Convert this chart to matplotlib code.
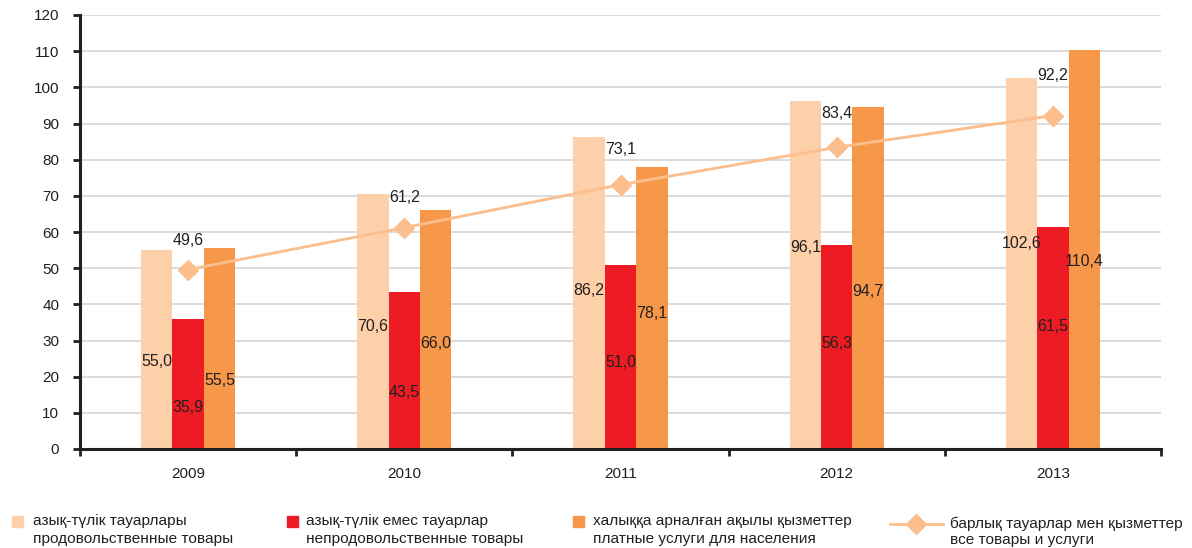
import matplotlib
matplotlib.use("Agg")
import matplotlib.pyplot as plt
from matplotlib.patches import Rectangle
from matplotlib.lines import Line2D
import numpy as np

plt.rcParams['font.family'] = ['Liberation Sans', 'DejaVu Sans']

# ---- data ----
years = ["2009", "2010", "2011", "2012", "2013"]
food = [55.0, 70.6, 86.2, 96.1, 102.6]
nonfood = [35.9, 43.5, 51.0, 56.3, 61.5]
services = [55.5, 66.0, 78.1, 94.7, 110.4]
total = [49.6, 61.2, 73.1, 83.4, 92.2]

legend_labels = [
    "азық-түлік тауарлары\nпродовольственные товары",
    "азық-түлік емес тауарлар\nнепродовольственные товары",
    "халыққа арналған ақылы қызметтер\nплатные услуги для населения",
    "барлық тауарлар мен қызметтер\nвсе товары и услуги",
]

# ---- styling ----
c_food = "#FDD0AA"
c_nonfood = "#ED1C24"
c_serv = "#F7974A"
c_line = "#FBBE8C"
txt = "#231F20"

# label vertical position as a fraction of bar height (styling only)
frac_food = [0.44, 0.48, 0.51, 0.58, 0.555]
frac_nonfood = [0.32, 0.36, 0.47, 0.52, 0.55]
frac_serv = [0.34, 0.44, 0.48, 0.46, 0.47]
line_label_off = [29, 30, 35, 34, 40]  # pixels above marker

W, H = 1192, 548
fig = plt.figure(figsize=(W / 100, H / 100), dpi=100)

def fx(px):
    return px / W

def fy(py):
    return 1 - py / H

ax = fig.add_axes([fx(80), fy(449), fx(1161) - fx(80), fy(15) - fy(449)])

x = np.arange(len(years))
bw = 0.145

ax.bar(x - bw, food, bw, color=c_food, zorder=2)
ax.bar(x, nonfood, bw, color=c_nonfood, zorder=2)
ax.bar(x + bw, services, bw, color=c_serv, zorder=2)
ax.plot(x, total, color=c_line, lw=2, marker="D", markersize=10,
        markerfacecolor=c_line, markeredgecolor=c_line, zorder=4)

fmt = lambda v: f"{v:.1f}".replace(".", ",")
fs_lab = 11.5

for xs, vals, fr in [(x - bw, food, frac_food), (x, nonfood, frac_nonfood), (x + bw, services, frac_serv)]:
    for xi, v, f in zip(xs, vals, fr):
        ax.text(xi, v * f, fmt(v), ha="center", va="center", fontsize=fs_lab, color=txt, zorder=5)

for xi, v, off in zip(x, total, line_label_off):
    ax.annotate(fmt(v), (xi, v), xytext=(0, off * 0.72), textcoords="offset points",
                ha="center", va="center", fontsize=fs_lab, color=txt, zorder=5)

ax.set_xlim(-0.5, len(years) - 0.5)
ax.set_ylim(0, 120)
ax.set_yticks(np.arange(0, 121, 10))
ax.yaxis.grid(True, color="#D6D6D6", lw=1.2, zorder=0)
ax.set_axisbelow(True)

for s in ["top", "right"]:
    ax.spines[s].set_visible(False)
for s in ["left", "bottom"]:
    ax.spines[s].set_linewidth(2.2)
    ax.spines[s].set_color(txt)

ax.set_xticks(x)
ax.set_xticklabels(years)
ax.set_xticks(np.arange(-0.5, len(years), 1.0), minor=True)
ax.tick_params(axis="x", which="major", length=0, pad=13, labelsize=11, colors=txt)
ax.tick_params(axis="x", which="minor", length=5, width=2, color=txt, direction="out")
ax.tick_params(axis="y", length=5, width=2, color=txt, pad=10, labelsize=11, labelcolor=txt)

# ---- legend (manual, figure coords) ----
sq = 11
fs_leg = 11.1
for (sx, tx), col, lab in zip([(12, 33), (287, 306), (573, 593)], [c_food, c_nonfood, c_serv], legend_labels[:3]):
    fig.patches.append(Rectangle((fx(sx), fy(521 + sq / 2)), fx(sq), fy(0) - fy(sq),
                                 transform=fig.transFigure, color=col))
    fig.text(fx(tx), fy(521), lab.split("\n")[0], fontsize=fs_leg, color=txt, va="center", ha="left")
    fig.text(fx(tx), fy(539), lab.split("\n")[1], fontsize=fs_leg, color=txt, va="center", ha="left")

fig.lines.append(Line2D([fx(890), fx(943)], [fy(524), fy(524)], transform=fig.transFigure,
                        color=c_line, lw=2))
fig.lines.append(Line2D([fx(916)], [fy(524)], transform=fig.transFigure, marker="D",
                        markersize=10, color=c_line, lw=0))
fig.text(fx(950), fy(524), legend_labels[3].split("\n")[0], fontsize=fs_leg, color=txt, va="center", ha="left")
fig.text(fx(950), fy(540), legend_labels[3].split("\n")[1], fontsize=fs_leg, color=txt, va="center", ha="left")

fig.savefig("out.png", dpi=100)
